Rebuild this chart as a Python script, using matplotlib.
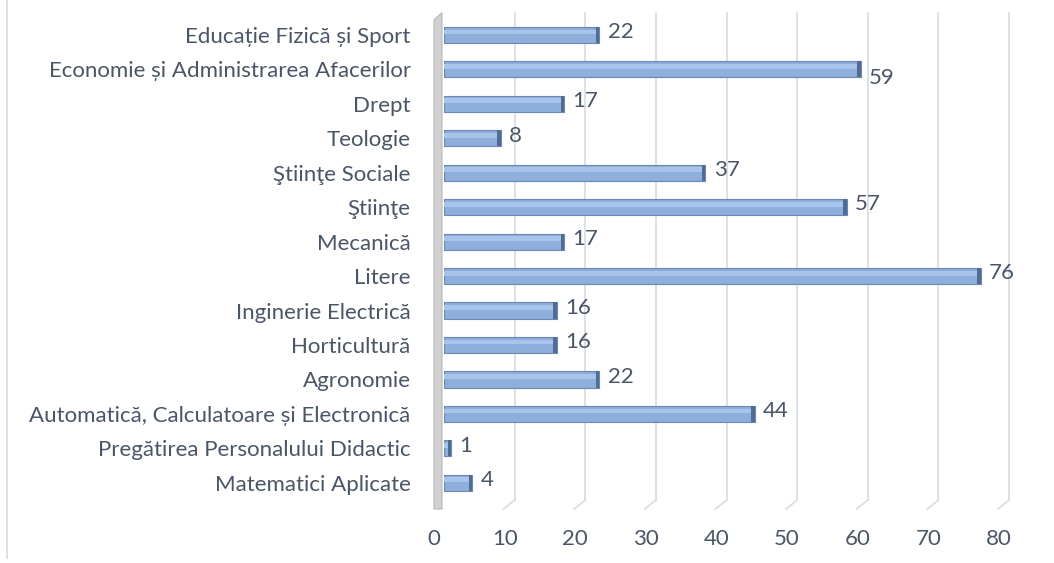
import matplotlib
matplotlib.use("Agg")
import matplotlib.pyplot as plt
import matplotlib.transforms as mtransforms
from matplotlib.lines import Line2D
from matplotlib.patches import Polygon
import numpy as np

categories = [
    "Educație Fizică și Sport",
    "Economie și Administrarea Afacerilor",
    "Drept",
    "Teologie",
    "Ştiinţe Sociale",
    "Ştiinţe",
    "Mecanică",
    "Litere",
    "Inginerie Electrică",
    "Horticultură",
    "Agronomie",
    "Automatică, Calculatoare și Electronică",
    "Pregătirea Personalului Didactic",
    "Matematici Aplicate",
]
values = [22, 59, 17, 8, 37, 57, 17, 76, 16, 16, 22, 44, 1, 4]
xticks = [0, 10, 20, 30, 40, 50, 60, 70, 80]

plt.rcParams['font.family'] = ['Lato', 'DejaVu Sans']
text_color = '#4a5568'
grid_color = '#d9dde6'

W, H = 1054, 563
fig = plt.figure(figsize=(W / 100, H / 100), dpi=100)
left = 444 / W
right = 1009 / W
top = 1 - 17.7 / H
bottom = 1 - 500 / H
ax = fig.add_axes([left, bottom, right - left, top - bottom])
ax.patch.set_visible(False)

n = len(categories)
ypos = np.arange(n)[::-1]

ax.set_xlim(0, 80)
ax.set_ylim(-0.5, n - 0.5)

# back-wall gridlines
for xt in xticks[1:]:
    ax.axvline(xt, ymin=0, ymax=1.01, color=grid_color, lw=1.3, zorder=0, clip_on=False)

# slanted floor feet (perspective), computed in display coords
fig.canvas.draw()
for xt in xticks[1:]:
    px, py = ax.transData.transform((xt, -0.5))
    fig.add_artist(Line2D([px / W, (px - 11) / W], [py / H, (py - 9) / H],
                          color=grid_color, lw=1.3, zorder=0))

# grey side wall at x=0
px0, pyb = ax.transData.transform((0, -0.5))
_, pyt = ax.transData.transform((0, n - 0.5))
wall = Polygon([[(px0 - 10) / W, (pyb - 9) / H], [(px0 - 2) / W, (pyb - 9) / H],
                [(px0 - 2) / W, (pyt + 5) / H], [(px0 - 10) / W, (pyt - 2) / H]],
               closed=True, facecolor='#d0d0d0', edgecolor='#b8b8b8', lw=0.8,
               transform=fig.transFigure, zorder=1)
fig.add_artist(wall)

bh = 0.47
ax.barh(ypos, values, height=bh, color='#8eaedb', edgecolor='#6a88b3', lw=0.8, zorder=3)
ax.barh(ypos + bh * 0.18, values, height=bh * 0.3, color='#a9c4ea', lw=0, zorder=4)
ax.barh(ypos, [0.5] * n, left=np.array(values) - 0.5, height=bh, color='#4f6c94', lw=0, zorder=5)

for y, v in zip(ypos, values):
    dy = -0.25 if v in (59,) else 0.08
    ax.annotate(str(v), (v, y + dy), xytext=(6, 0), textcoords='offset points',
                va='center', ha='left', fontsize=16, color=text_color, zorder=6)

ax.set_yticks(ypos)
ax.set_yticklabels(categories, fontsize=16, color=text_color)
ax.set_xticks(xticks)
ax.set_xticklabels([str(t) for t in xticks], fontsize=16, color=text_color)
ax.tick_params(axis='both', length=0)
ax.tick_params(axis='y', pad=24)
ax.tick_params(axis='x', pad=21)
shift = mtransforms.ScaledTranslation(-10 / 100, 0, fig.dpi_scale_trans)
for lbl in ax.get_xticklabels():
    lbl.set_transform(lbl.get_transform() + shift)
for s in ax.spines.values():
    s.set_visible(False)

fig.add_artist(Line2D([7 / W, 7 / W], [5 / H, 1], color='#d9d9d9', lw=1.2))

fig.savefig('out.png', dpi=100)
